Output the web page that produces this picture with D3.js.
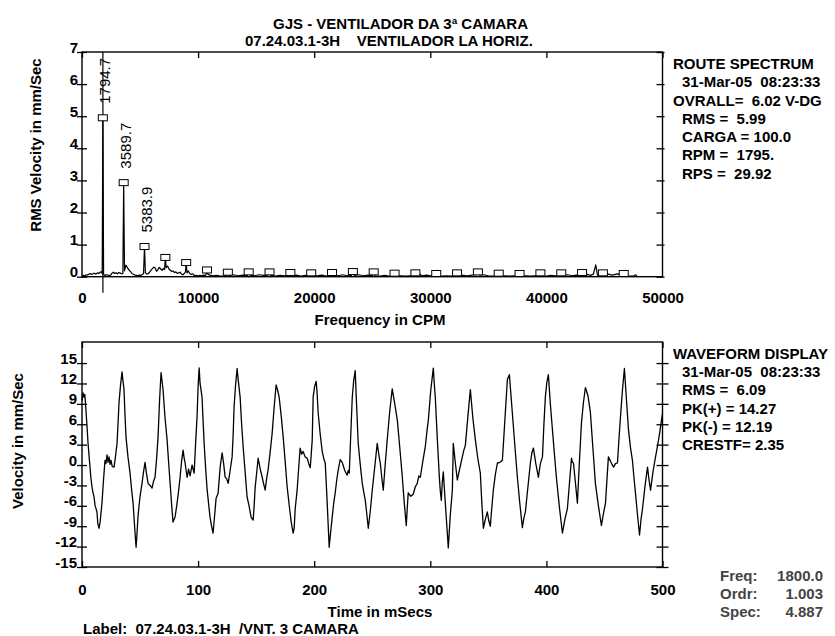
<!DOCTYPE html>
<html>
<head>
<meta charset="utf-8">
<script src="https://cdn.jsdelivr.net/npm/d3@7"></script>
<style>
  body { margin: 0; background: #fff; }
  text { font-family: "Liberation Sans", Arial, Helvetica, sans-serif; white-space: pre; }
</style>
</head>
<body>
<svg id="chart" width="835" height="636"></svg>
<script>
// ---------- data ----------
const titleLines = ["GJS - VENTILADOR DA 3ª CAMARA", "07.24.03.1-3H    VENTILADOR LA HORIZ."];

const freqTicks = [0, 10000, 20000, 30000, 40000, 50000];
const ampTicks = [0, 1, 2, 3, 4, 5, 6, 7];
const timeTicks = [0, 100, 200, 300, 400, 500];
const velTicks = [15, 12, 9, 6, 3, 0, -3, -6, -9, -12, -15];

// running-speed harmonics [CPM, mm/s]
const harmonicPeaks = [
  [1794.7, 4.95], [3589.7, 2.93], [5383.9, 0.94], [7178.8, 0.6], [8973.5, 0.44],
  [10768.2, 0.21], [12562.9, 0.14], [14357.6, 0.15], [16152.3, 0.15], [17947.0, 0.13],
  [19741.7, 0.12], [21536.4, 0.13], [23331.1, 0.16], [25125.8, 0.15], [26920.5, 0.11],
  [28715.2, 0.12], [30509.9, 0.1], [32304.6, 0.12], [34099.3, 0.15], [35894.0, 0.11],
  [37688.7, 0.1], [39483.4, 0.12], [41278.1, 0.12], [43072.8, 0.13], [44867.5, 0.12],
  [46662.2, 0.1]
];
const labelledPeaks = 3;

// spectrum background between the harmonic lines [CPM, mm/s]
const spectrumFloor = [
  [0,0.02],[120,0.04],[240,0.03],[360,0.06],[480,0.05],[600,0.08],[720,0.1],[840,0.07],[960,0.09],
  [1080,0.11],[1200,0.08],[1320,0.12],[1440,0.1],[1560,0.14],[1680,0.15],[1740,0.1],
  [1860,0.07],[1980,0.04],[2100,0.06],[2220,0.05],[2340,0.03],[2460,0.05],[2580,0.11],[2700,0.14],
  [2820,0.1],[2940,0.12],[3060,0.09],[3180,0.13],[3300,0.11],[3420,0.09],[3520,0.1],
  [3660,0.18],[3780,0.36],[3880,0.3],[3980,0.24],[4100,0.19],[4220,0.14],[4340,0.09],[4460,0.07],
  [4580,0.05],[4700,0.04],[4820,0.03],[4940,0.05],[5060,0.04],[5180,0.07],[5300,0.09],
  [5460,0.12],[5580,0.08],[5700,0.1],[5820,0.14],[5940,0.2],[6060,0.25],[6180,0.3],[6300,0.27],
  [6420,0.17],[6540,0.22],[6660,0.29],[6780,0.24],[6900,0.2],[7020,0.26],[7110,0.22],
  [7250,0.28],[7370,0.33],[7490,0.24],[7610,0.2],[7730,0.16],[7850,0.18],[7970,0.13],[8090,0.15],
  [8210,0.1],[8330,0.12],[8450,0.14],[8570,0.08],[8690,0.06],[8810,0.1],[8910,0.15],
  [9040,0.12],[9160,0.18],[9280,0.1],[9400,0.07],[9520,0.09],[9640,0.05],[9760,0.03],[9880,0.04],
  [10000,0.02],[10150,0.04],[10300,0.03],[10450,0.05],[10600,0.04],[10700,0.07],
  [10840,0.08],[11000,0.05],[11300,0.03],[11600,0.04],[11900,0.02],[12200,0.03],[12450,0.05],
  [12680,0.04],[13050,0.06],[13450,0.03],[13850,0.05],[14240,0.04],
  [14480,0.05],[14850,0.03],[15250,0.06],[15650,0.04],[16030,0.05],
  [16270,0.04],[16650,0.02],[17050,0.04],[17450,0.03],[17830,0.05],
  [18070,0.03],[18450,0.05],[18850,0.02],[19250,0.04],[19620,0.03],
  [19860,0.04],[20250,0.03],[20650,0.05],[21050,0.02],[21420,0.04],
  [21650,0.05],[22050,0.03],[22450,0.06],[22850,0.03],[23210,0.04],
  [23450,0.04],[23850,0.06],[24250,0.03],[24650,0.05],[25010,0.03],
  [25240,0.03],[25650,0.02],[26050,0.04],[26450,0.02],[26800,0.03],
  [27040,0.02],[27450,0.03],[27850,0.02],[28250,0.03],[28600,0.02],
  [28830,0.03],[29100,0.09],[29250,0.03],[29700,0.05],[30000,0.03],[30390,0.04],
  [30630,0.03],[31000,0.02],[31400,0.03],[31800,0.02],[32190,0.03],
  [32420,0.02],[32800,0.04],[33200,0.03],[33600,0.05],[33980,0.06],
  [34220,0.05],[34600,0.06],[35000,0.03],[35400,0.02],[35780,0.03],
  [36010,0.02],[36400,0.03],[36800,0.02],[37200,0.03],[37570,0.02],
  [37810,0.02],[38200,0.03],[38600,0.02],[39000,0.03],[39370,0.02],
  [39600,0.03],[40000,0.02],[40400,0.04],[40800,0.03],[41160,0.02],
  [41400,0.02],[41800,0.06],[42200,0.03],[42600,0.05],[42950,0.04],
  [43190,0.03],[43500,0.07],[43800,0.04],[44050,0.08],[44250,0.37],[44400,0.05],[44750,0.06],
  [44990,0.04],[45300,0.08],[45700,0.05],[46100,0.09],[46540,0.04],
  [46780,0.03],[47100,0.02],[47500,0.03],[47700,0.06],[47800,0.01]
];

const cursorCpm = 1800.0;

// time waveform [ms, mm/s]
const waveform = [
  [0,9.5],[0.9,10.6],[1.7,10.0],[2.4,10.4],[3.4,8.1],[4.2,6.0],[5.2,3.2],[6.5,0.5],[7.6,-1.8],[8.6,-3.2],
  [9.4,-4.0],[10.3,-4.6],[11.2,-5.9],[12.9,-6.9],[13.6,-8.6],[14.7,-9.3],[15.6,-8.4],[17.2,-5.6],[18.4,-2.5],
  [19.8,0.7],[20.6,0.2],[21.6,1.5],[22.4,0.4],[23.3,1.2],[24.2,0.1],[25.0,0.7],[26.0,-0.2],[27.6,-0.3],
  [28.8,1.2],[30.2,3.2],[31.0,6.0],[31.9,9.2],[33.2,11.8],[34.5,13.7],[35.2,12.5],[36.2,11.1],[37.0,7.5],
  [37.9,4.1],[39.6,1.2],[41.4,-1.2],[42.6,-3.4],[44.0,-5.6],[45.3,-9.0],[46.6,-12.1],[47.4,-10.0],[48.3,-7.4],
  [50.0,-4.6],[51.7,-2.7],[53.0,-1.0],[54.3,0.4],[55.5,-1.2],[56.9,-2.7],[58.6,-3.0],[60.3,-3.4],[61.6,-2.4],
  [62.9,-1.8],[64.2,0.8],[65.5,4.1],[66.8,9.5],[68.1,13.6],[68.9,12.4],[69.8,11.1],[71.5,7.0],[73.3,3.7],
  [74.6,0.4],[75.9,-2.7],[77.2,-5.8],[78.4,-8.4],[80.2,-7.6],[81.9,-5.6],[83.2,-3.8],[84.5,-1.8],[85.8,0.6],
  [87.1,2.2],[88.0,1.0],[88.8,0.3],[89.7,-0.8],[90.5,-1.8],[91.8,-0.6],[93.1,-1.6],[94.8,0.0],[95.7,-0.6],
  [96.6,-1.2],[97.8,3.0],[99.1,7.1],[100.0,11.5],[100.9,14.3],[101.7,12.0],[103.4,10.0],[104.3,6.5],[105.2,3.2],
  [106.5,-0.5],[107.8,-3.7],[109.0,-5.6],[110.3,-7.7],[111.6,-9.0],[112.9,-10.0],[114.2,-7.5],[115.5,-4.9],
  [117.2,-4.2],[119.0,-0.3],[120.7,1.8],[122.0,0.2],[123.3,-1.8],[124.6,-2.0],[125.9,-2.7],[127.6,-0.8],
  [129.3,1.2],[130.2,4.5],[131.0,8.6],[132.3,11.8],[133.6,14.2],[134.5,12.6],[136.2,10.0],[137.5,6.0],
  [138.8,2.7],[140.5,-1.0],[142.2,-4.7],[143.9,-6.0],[145.7,-7.7],[147.4,-8.1],[148.2,-6.2],[149.1,-3.4],
  [150.4,-1.2],[151.7,1.0],[153.4,-0.5],[155.2,-1.8],[156.5,-2.8],[157.8,-3.7],[159.0,-2.0],[160.3,-0.7],
  [162.0,1.8],[163.8,4.7],[165.5,8.5],[167.2,11.8],[168.5,11.0],[169.8,10.0],[171.6,7.2],[173.3,4.1],
  [175.0,0.5],[176.7,-3.2],[178.4,-5.8],[180.2,-8.4],[181.9,-10.0],[182.8,-9.2],[183.6,-6.5],[185.3,-3.7],
  [186.6,-0.5],[187.9,2.5],[189.2,1.6],[190.5,2.0],[192.2,1.2],[194.0,1.0],[195.3,0.2],[196.6,-0.4],
  [197.4,1.5],[198.3,3.7],[199.1,10.0],[200.4,11.6],[201.7,12.3],[202.5,10.6],[203.4,7.7],[205.2,4.5],
  [206.9,2.0],[208.2,1.0],[209.5,0.3],[210.3,-2.4],[211.2,-5.6],[212.1,-9.0],[212.9,-12.1],[214.2,-9.8],
  [215.5,-7.7],[216.8,-5.6],[218.1,-4.1],[219.4,-2.2],[220.7,-0.7],[222.4,0.8],[224.1,0.4],[226.3,-0.8],
  [228.4,-1.5],[229.3,-0.8],[230.2,-1.2],[231.5,4.5],[232.8,10.0],[234.0,12.4],[235.3,13.9],[236.6,8.5],
  [237.9,3.2],[239.6,0.2],[241.4,-2.7],[242.7,-4.0],[244.0,-5.2],[245.3,-7.2],[246.6,-9.3],[248.3,-6.8],
  [250.0,-3.7],[252.2,-0.2],[254.3,3.2],[255.6,1.6],[256.9,0.3],[258.2,-1.8],[259.5,-3.7],[261.2,0.2],
  [262.9,3.7],[265.0,7.8],[267.2,11.2],[269.4,9.0],[271.6,6.6],[273.8,2.4],[275.9,-1.8],[277.6,-5.6],
  [279.3,-8.9],[280.2,-6.2],[281.0,-4.1],[283.2,-4.6],[285.3,-4.3],[287.1,-3.2],[288.8,-2.7],[290.1,-1.6],
  [291.4,-1.8],[293.6,0.6],[295.7,2.7],[297.0,4.8],[298.3,6.6],[300.4,11.0],[302.6,14.27],[303.4,12.0],
  [304.3,10.0],[306.0,4.0],[307.8,-1.8],[308.6,-3.8],[309.5,-5.2],[310.3,-2.6],[311.2,-1.0],[313.4,-6.8],
  [315.5,-12.19],[317.2,-7.4],[319.0,-3.7],[319.8,3.2],[321.5,0.4],[323.3,-2.2],[325.5,-0.4],[327.6,1.2],
  [328.9,2.2],[330.2,2.9],[332.4,7.2],[334.5,11.1],[336.6,7.0],[338.8,3.7],[340.9,1.0],[343.1,-1.2],
  [344.4,-5.6],[345.7,-9.3],[347.4,-8.0],[349.1,-6.9],[350.4,-8.2],[351.7,-9.0],[353.0,-6.2],[354.3,-3.7],
  [356.0,-1.4],[357.8,0.3],[360.0,0.4],[362.1,0.7],[364.3,6.8],[366.4,12.6],[368.1,13.3],[369.8,9.6],
  [371.6,5.6],[373.3,1.8],[375.0,-1.8],[377.2,-5.8],[379.3,-9.2],[380.6,-7.8],[381.9,-6.9],[384.1,-3.2],
  [386.2,0.3],[387.5,1.8],[388.8,2.5],[390.9,0.2],[393.1,-1.8],[394.8,0.2],[396.6,1.2],[397.8,5.8],
  [399.1,10.0],[400.4,12.2],[401.7,13.3],[403.4,9.0],[405.2,5.2],[406.9,1.6],[408.6,-1.8],[411.2,-6.2],
  [413.8,-10.0],[415.9,-8.0],[418.1,-6.4],[419.8,-2.8],[421.6,1.0],[422.4,0.4],[423.3,0.3],[425.0,-2.6],
  [426.7,-5.6],[428.4,0.4],[430.2,6.2],[431.9,9.2],[433.6,11.4],[435.8,10.2],[437.9,7.7],[440.1,2.4],
  [442.2,-2.7],[444.8,-6.0],[447.4,-8.9],[449.1,-7.2],[450.9,-5.6],[452.2,-2.0],[453.4,1.2],[455.6,0.4],
  [457.8,-0.3],[459.5,0.2],[461.2,0.3],[462.5,3.8],[463.8,7.1],[465.5,11.0],[467.2,14.2],[469.0,9.5],
  [470.7,5.2],[472.4,2.6],[474.1,0.7],[475.4,-1.8],[476.7,-4.1],[478.4,-7.2],[480.2,-10.3],[481.5,-8.0],
  [482.8,-6.4],[485.0,-3.0],[487.1,-0.3],[488.4,-2.2],[489.7,-3.7],[491.8,-1.0],[494.0,1.2],[495.3,2.4],
  [496.6,3.7],[497.8,5.0],[499.1,6.6],[500,7.5]
];

const spectrumInfo = [
  ["ROUTE SPECTRUM", 0], ["31-Mar-05  08:23:33", 1], ["OVRALL=  6.02 V-DG", 0],
  ["RMS =  5.99", 1], ["CARGA = 100.0", 1], ["RPM =  1795.", 1], ["RPS =  29.92", 1]
];
const waveformInfo = [
  ["WAVEFORM DISPLAY", 0], ["31-Mar-05  08:23:33", 1], ["RMS =  6.09", 1],
  ["PK(+) = 14.27", 1], ["PK(-) = 12.19", 1], ["CRESTF= 2.35", 1]
];
const cursorInfo = [["Freq:", "1800.0"], ["Ordr:", "1.003"], ["Spec:", "4.887"]];
const footerLabel = "Label:  07.24.03.1-3H  /VNT. 3 CAMARA";

// ---------- layout ----------
const svg = d3.select("#chart");
const FS = 15;
const left = 82, right = 662.5;
const spec = { top: 52, bottom: 276.7 };
const wave = { top: 342, bottom: 567 };

const x = d3.scaleLinear().domain([0, 50000]).range([left, right]);
const y = d3.scaleLinear().domain([0, 7]).range([spec.bottom, spec.top]);
const xt = d3.scaleLinear().domain([0, 500]).range([left, right]);
const yv = d3.scaleLinear().domain([-15, 18.1]).range([wave.bottom, wave.top]);

function boldText(g) {
  g.attr("font-weight", "bold").attr("font-size", FS).attr("fill", "#000");
}

// title
svg.append("text").attr("x", 273).attr("y", 28.5).text(titleLines[0]).call(boldText);
svg.append("text").attr("x", 245).attr("y", 46).text(titleLines[1]).call(boldText);

// ---------- spectrum panel ----------
function tickStyle(g) {
  g.select(".domain").remove();
  g.selectAll("line").attr("stroke", "#000").attr("stroke-width", 1.3);
  g.selectAll("text").attr("font-family", null).attr("font-size", FS).attr("font-weight", "bold").attr("fill", "#000");
}

// left axis: outward ticks with labels, inward ticks without
svg.append("g").attr("transform", `translate(${left},0)`)
  .call(d3.axisLeft(y).tickValues(ampTicks).tickSize(5).tickPadding(-1).tickFormat(d => String(d)))
  .call(tickStyle).call(g => g.selectAll("text").attr("dy", "0"));
svg.append("g").attr("transform", `translate(${left},0)`)
  .call(d3.axisRight(y).tickValues(ampTicks).tickSize(5).tickFormat(""))
  .call(tickStyle);
svg.append("g").attr("transform", `translate(${right},0)`)
  .call(d3.axisLeft(y).tickValues(ampTicks).tickSize(6).tickFormat(""))
  .call(tickStyle);
svg.append("g").attr("transform", `translate(${right},0)`)
  .call(d3.axisRight(y).tickValues(ampTicks).tickSize(2).tickFormat(""))
  .call(tickStyle);
// top ticks pointing in
svg.append("g").attr("transform", `translate(0,${spec.top})`)
  .call(d3.axisTop(x).tickValues(freqTicks).tickSize(-6).tickFormat(""))
  .call(tickStyle);
// frequency labels
svg.append("g").attr("transform", `translate(0,${spec.bottom})`)
  .call(d3.axisBottom(x).tickValues(freqTicks).tickSize(0).tickPadding(16).tickFormat(d => String(d)))
  .call(tickStyle);

// frame
svg.append("rect").attr("x", left).attr("y", spec.top)
  .attr("width", right - left).attr("height", spec.bottom - spec.top)
  .attr("fill", "none").attr("stroke", "#000").attr("stroke-width", 1.4);

// trace: background merged with harmonic lines
const spectrumTrace = spectrumFloor.concat(harmonicPeaks).sort((a, b) => a[0] - b[0]);
svg.append("path").datum(spectrumTrace)
  .attr("d", d3.line().x(d => x(d[0])).y(d => y(d[1])))
  .attr("fill", "none").attr("stroke", "#000").attr("stroke-width", 1.2).attr("stroke-linejoin", "round");

// cursor
svg.append("line")
  .attr("x1", x(cursorCpm)).attr("x2", x(cursorCpm))
  .attr("y1", spec.top).attr("y2", spec.bottom + 16)
  .attr("stroke", "#000").attr("stroke-width", 1.2);

// peak markers
svg.append("g").selectAll("rect").data(harmonicPeaks).join("rect")
  .attr("x", d => x(d[0]) - 4.5).attr("y", d => y(d[1]) - 3)
  .attr("width", 9).attr("height", 6)
  .attr("fill", "#fff").attr("stroke", "#000").attr("stroke-width", 1);

// peak frequency labels
svg.append("g").selectAll("text").data(harmonicPeaks.slice(0, labelledPeaks)).join("text")
  .attr("transform", d => `translate(${x(d[0]) + 7},${y(d[1]) - 14})rotate(-90)`)
  .attr("font-size", FS).attr("fill", "#000")
  .text(d => d[0].toFixed(1));

// axis titles
svg.append("text").attr("transform", `translate(41,145)rotate(-90)`)
  .attr("text-anchor", "middle").text("RMS Velocity in mm/Sec").call(boldText);
svg.append("text").attr("x", 380).attr("y", 324.5)
  .attr("text-anchor", "middle").text("Frequency in CPM").call(boldText);

// info block
svg.append("g").selectAll("text").data(spectrumInfo).join("text")
  .attr("x", d => d[1] ? 682 : 673).attr("y", (d, i) => 69 + i * 18.25)
  .text(d => d[0]).call(boldText);

// ---------- waveform panel ----------
svg.append("g").attr("transform", `translate(${left},0)`)
  .call(d3.axisLeft(yv).tickValues(velTicks).tickSize(5).tickPadding(0).tickFormat(d => String(d)))
  .call(tickStyle).call(g => g.selectAll("text").attr("dy", "0"));
svg.append("g").attr("transform", `translate(${left},0)`)
  .call(d3.axisRight(yv).tickValues(velTicks).tickSize(5).tickFormat(""))
  .call(tickStyle);
svg.append("g").attr("transform", `translate(${right},0)`)
  .call(d3.axisLeft(yv).tickValues(velTicks).tickSize(6).tickFormat(""))
  .call(tickStyle);
svg.append("g").attr("transform", `translate(${right},0)`)
  .call(d3.axisRight(yv).tickValues(velTicks).tickSize(6).tickFormat(""))
  .call(tickStyle);
svg.append("g").attr("transform", `translate(0,${wave.top})`)
  .call(d3.axisTop(xt).tickValues(timeTicks).tickSize(-6).tickFormat(""))
  .call(tickStyle);
svg.append("g").attr("transform", `translate(0,${wave.bottom})`)
  .call(d3.axisBottom(xt).tickValues(timeTicks).tickSize(-6).tickPadding(17).tickFormat(d => String(d)))
  .call(tickStyle);

svg.append("rect").attr("x", left).attr("y", wave.top)
  .attr("width", right - left).attr("height", wave.bottom - wave.top)
  .attr("fill", "none").attr("stroke", "#000").attr("stroke-width", 1.4);

svg.append("path").datum(waveform)
  .attr("d", d3.line().x(d => xt(d[0])).y(d => yv(d[1])))
  .attr("fill", "none").attr("stroke", "#000").attr("stroke-width", 1.3).attr("stroke-linejoin", "round");

svg.append("text").attr("transform", `translate(23,441)rotate(-90)`)
  .attr("text-anchor", "middle").text("Velocity in mm/Sec").call(boldText);
svg.append("text").attr("x", 380).attr("y", 616.5)
  .attr("text-anchor", "middle").text("Time in mSecs").call(boldText);
svg.append("text").attr("x", 83).attr("y", 634).text(footerLabel).call(boldText);

svg.append("g").selectAll("text").data(waveformInfo).join("text")
  .attr("x", d => d[1] ? 682 : 673).attr("y", (d, i) => 359 + i * 18.2)
  .text(d => d[0]).call(boldText);

// cursor readout
const readout = svg.append("g");
cursorInfo.forEach((row, i) => {
  readout.append("text").attr("x", 720).attr("y", 580.5 + i * 18)
    .text(row[0]).call(boldText).attr("fill", "#444");
  readout.append("text").attr("x", 823).attr("y", 580.5 + i * 18)
    .attr("text-anchor", "end").text(row[1]).call(boldText).attr("fill", "#444");
});
</script>
</body>
</html>
